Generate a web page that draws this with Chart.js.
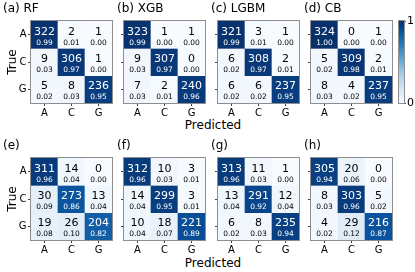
<!DOCTYPE html>
<html>
<head>
<meta charset="utf-8">
<script src="https://cdn.jsdelivr.net/npm/chart.js@4.4.1/dist/chart.umd.min.js"></script>
<style>
  html, body { margin:0; padding:0; background:#fff; }
  body { width:415px; height:272px; position:relative; overflow:hidden; font-family:"DejaVu Sans", sans-serif; }
  canvas { position:absolute; }
  .xlab { position:absolute; font-size:12px; color:#000; transform:translate(-50%,-50%); white-space:nowrap; }
</style>
</head>
<body>
<div class="xlab" style="left:213px;top:125px;">Predicted</div>
<div class="xlab" style="left:213px;top:263px;">Predicted</div>
<script>
// ---- data ----
const categories = ['A', 'C', 'G'];
const panelTitles = ['(a) RF', '(b) XGB', '(c) LGBM', '(d) CB', '(e)', '(f)', '(g)', '(h)'];
const colorbarTicks = [0, 1];

const rfCounts   = [[322, 2, 1], [9, 306, 1], [5, 8, 236]];
const rfRates    = [[0.99, 0.01, 0.00], [0.03, 0.97, 0.00], [0.02, 0.03, 0.95]];
const xgbCounts  = [[323, 1, 1], [9, 307, 0], [7, 2, 240]];
const xgbRates   = [[0.99, 0.00, 0.00], [0.03, 0.97, 0.00], [0.03, 0.01, 0.96]];
const lgbmCounts = [[321, 3, 1], [6, 308, 2], [6, 6, 237]];
const lgbmRates  = [[0.99, 0.01, 0.00], [0.02, 0.97, 0.01], [0.02, 0.02, 0.95]];
const cbCounts   = [[324, 0, 1], [5, 309, 2], [8, 4, 237]];
const cbRates    = [[1.00, 0.00, 0.00], [0.02, 0.98, 0.01], [0.03, 0.02, 0.95]];
const eCounts    = [[311, 14, 0], [30, 273, 13], [19, 26, 204]];
const eRates     = [[0.96, 0.04, 0.00], [0.09, 0.86, 0.04], [0.08, 0.10, 0.82]];
const fCounts    = [[312, 10, 3], [14, 299, 3], [10, 18, 221]];
const fRates     = [[0.96, 0.03, 0.01], [0.04, 0.95, 0.01], [0.04, 0.07, 0.89]];
const gCounts    = [[313, 11, 1], [13, 291, 12], [6, 8, 235]];
const gRates     = [[0.96, 0.03, 0.00], [0.04, 0.92, 0.04], [0.02, 0.03, 0.94]];
const hCounts    = [[305, 20, 0], [8, 303, 5], [4, 29, 216]];
const hRates     = [[0.94, 0.06, 0.00], [0.03, 0.96, 0.02], [0.02, 0.12, 0.87]];

const allCounts = [rfCounts, xgbCounts, lgbmCounts, cbCounts, eCounts, fCounts, gCounts, hCounts];
const allRates  = [rfRates, xgbRates, lgbmRates, cbRates, eRates, fRates, gRates, hRates];

// ---- style ----
const FONT = '"DejaVu Sans", sans-serif';
const BLUES = [[247,251,255],[222,235,247],[198,219,239],[158,202,225],[107,174,214],[66,146,198],[33,113,181],[8,81,156],[8,48,107]];
function blues(t) {
  t = Math.max(0, Math.min(1, t));
  const s = t * 8, i = Math.min(7, Math.floor(s)), f = s - i;
  const a = BLUES[i], b = BLUES[i + 1];
  return 'rgb(' + a.map((v, k) => Math.round(v + (b[k] - v) * f)).join(',') + ')';
}
const SPINE = '#8e8e8e';
const gridLefts = [31, 124, 218, 311];
const gridTops = [21, 158];
const GW = 81, GH = 82, XAXIS_H = 18;

const framePlugin = {
  id: 'frame',
  afterDatasetsDraw(chart) {
    const a = chart.chartArea, ctx = chart.ctx;
    ctx.save();
    ctx.strokeStyle = SPINE; ctx.lineWidth = 1;
    ctx.strokeRect(Math.round(a.left) - 0.5, Math.round(a.top) - 0.5, Math.round(a.right - a.left) + 1, Math.round(a.bottom - a.top) + 1);
    ctx.restore();
  }
};

const cellTextPlugin = {
  id: 'cellText',
  afterDatasetsDraw(chart, args, opts) {
    const ctx = chart.ctx;
    ctx.save();
    ctx.textAlign = 'center'; ctx.textBaseline = 'middle';
    chart.data.datasets.forEach((ds, r) => {
      chart.getDatasetMeta(r).data.forEach((el, c) => {
        const p = el.getCenterPoint();
        const v = opts.rates[r][c];
        ctx.fillStyle = v > 0.5 ? '#ffffff' : '#000000';
        ctx.font = '11px ' + FONT;
        ctx.fillText(String(opts.counts[r][c]), p.x, p.y - 3);
        ctx.font = '7.5px ' + FONT;
        ctx.fillText(v.toFixed(2), p.x, p.y + 8);
      });
    });
    ctx.restore();
  }
};

function makeCanvas(left, top, w, h) {
  const c = document.createElement('canvas');
  c.width = w; c.height = h;
  c.style.left = left + 'px'; c.style.top = top + 'px';
  c.style.width = w + 'px'; c.style.height = h + 'px';
  document.body.appendChild(c);
  return c;
}

for (let k = 0; k < 8; k++) {
  const col = k % 4, row = Math.floor(k / 4);
  const gl = gridLefts[col], gt = gridTops[row];
  const first = col === 0;
  const padLeft = first ? 3 : 0;
  const left = first ? 0 : gl - 7;
  const top = gt - 21;
  const yAxisW = gl - left - padLeft;
  const w = gl + GW - left + 2;
  const h = 21 + GH + XAXIS_H;
  const canvas = makeCanvas(left, top, w, h);
  const counts = allCounts[k], rates = allRates[k];

  const datasets = categories.map((rowCat, r) => ({
    label: rowCat,
    data: categories.map(() => [r - 0.5, r + 0.5]),
    backgroundColor: (ctx) => blues(rates[ctx.datasetIndex][ctx.dataIndex]),
    borderWidth: 0,
    barPercentage: 1,
    categoryPercentage: 1,
    grouped: false
  }));

  new Chart(canvas, {
    type: 'bar',
    data: { labels: categories, datasets },
    options: {
      responsive: false,
      animation: false,
      devicePixelRatio: 1,
      layout: { padding: { left: padLeft, right: 2, top: 0, bottom: 0 } },
      plugins: {
        legend: { display: false },
        tooltip: { enabled: false },
        title: {
          display: true, text: panelTitles[k], align: 'start', color: '#000',
          font: { family: FONT, size: 12, weight: 'normal' },
          padding: { top: 2, bottom: 4.6 }
        },
        cellText: { counts, rates }
      },
      scales: {
        x: {
          type: 'category',
          offset: true,
          grid: { display: true, offset: false, drawOnChartArea: false, drawTicks: true, tickLength: 3, color: '#444', tickColor: '#444' },
          border: { display: false },
          ticks: { color: '#000', font: { family: FONT, size: 10 }, padding: 1, maxRotation: 0 },
          afterFit: (s) => { s.height = XAXIS_H; }
        },
        y: {
          type: 'linear',
          min: -0.5, max: 2.5, reverse: true,
          afterBuildTicks: (s) => { s.ticks = categories.map((c, i) => ({ value: i })); },
          grid: { display: true, drawOnChartArea: false, drawTicks: true, tickLength: 3, color: '#444', tickColor: '#444' },
          border: { display: false },
          ticks: { display: first, color: '#000', font: { family: FONT, size: 10 }, padding: 1.5,
                   callback: (v) => categories[v] },
          title: { display: first, text: 'True', color: '#000', font: { family: FONT, size: 12 }, padding: { top: 2.8, bottom: 0 } },
          afterFit: (s) => { s.width = yAxisW; }
        }
      }
    },
    plugins: [cellTextPlugin, framePlugin]
  });
}

// ---- colorbar ----
(function () {
  const left = 395, top = 0, w = 20, h = 21 + GH + XAXIS_H;
  const canvas = makeCanvas(left, top, w, h);
  new Chart(canvas, {
    type: 'bar',
    data: { labels: [''], datasets: [{
      data: [[colorbarTicks[0], colorbarTicks[colorbarTicks.length - 1]]],
      backgroundColor: (ctx) => {
        const a = ctx.chart.chartArea;
        if (!a) return blues(0.5);
        const g = ctx.chart.ctx.createLinearGradient(0, a.bottom, 0, a.top);
        for (let i = 0; i < BLUES.length; i++) g.addColorStop(i / 8, blues(i / 8));
        return g;
      },
      borderWidth: 0, barPercentage: 1, categoryPercentage: 1
    }] },
    options: {
      responsive: false, animation: false, devicePixelRatio: 1,
      layout: { padding: { left: 4, right: 0, top: 21, bottom: XAXIS_H } },
      plugins: { legend: { display: false }, tooltip: { enabled: false } },
      scales: {
        x: { display: false },
        y: {
          position: 'right', min: 0, max: 1,
          afterBuildTicks: (s) => { s.ticks = colorbarTicks.map(v => ({ value: v })); },
          grid: { display: true, drawOnChartArea: false, drawTicks: true, tickLength: 2, color: '#444', tickColor: '#444' },
          border: { display: false },
          ticks: { color: '#000', font: { family: FONT, size: 11 }, padding: 1 },
          afterFit: (s) => { s.width = 11; }
        }
      }
    },
    plugins: [framePlugin]
  });
})();
</script>
</body>
</html>
